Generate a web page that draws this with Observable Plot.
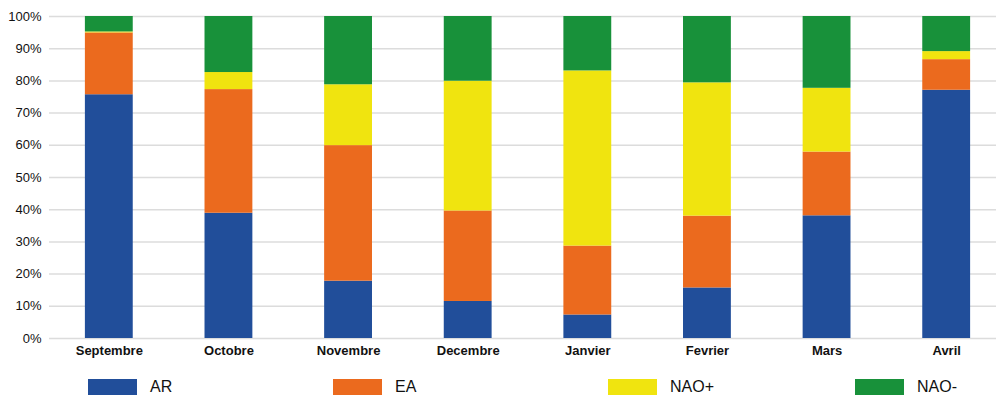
<!DOCTYPE html>
<html><head><meta charset="utf-8">
<script src="https://cdn.jsdelivr.net/npm/d3@7"></script>
<script src="https://cdn.jsdelivr.net/npm/@observablehq/plot@0.6"></script>
<style>
body{margin:0;background:#fff;font-family:"Liberation Sans",Arial,Helvetica,sans-serif;}
#wrap{position:relative;width:996px;height:396px;}
#legend{position:absolute;left:0;top:362px;width:996px;height:34px;}
.item{position:absolute;top:17px;height:16px;display:flex;align-items:center;font-size:16px;color:#111;}
.sw{width:49px;height:16px;margin-right:13px;}
</style>
</head><body>
<div id="wrap"><div id="chart"></div><div id="legend"></div></div>
<script>
const months = ["Septembre","Octobre","Novembre","Decembre","Janvier","Fevrier","Mars","Avril"];
const series = ["AR","EA","NAO+","NAO-"];
const colors = ["#214E9A","#EB6A1E","#F0E40F","#18913A"];
const AR    = [75.7, 38.9, 17.8, 11.5,  7.3, 15.7, 38.1, 77.1];
const EA    = [19.2, 38.4, 42.1, 28.1, 21.4, 22.3, 19.8,  9.5];
const NAOp  = [ 0.3,  5.3, 18.9, 40.3, 54.4, 41.4, 19.8,  2.5];
const NAOm  = [ 4.8, 17.4, 21.2, 20.1, 16.9, 20.6, 22.3, 10.9];
const yTicks = [0,10,20,30,40,50,60,70,80,90,100];
const legendX = [88, 333, 608, 855];

const values = [AR, EA, NAOp, NAOm];
const data = [];
series.forEach((s, si) => months.forEach((m, mi) => data.push({month: m, series: s, value: values[si][mi] / 100})));

const chart = Plot.plot({
  width: 996, height: 362,
  marginLeft: 49, marginRight: 0, marginTop: 16, marginBottom: 24,
  style: {fontFamily: '"Liberation Sans",Arial,Helvetica,sans-serif', fontSize: "13px", color: "#111"},
  x: {domain: months, range: [49, 1006], paddingInner: 0.6, paddingOuter: 0.3, round: false, label: null},
  y: {domain: [0, 1], label: null},
  color: {domain: series, range: colors},
  marks: [
    Plot.ruleY(yTicks.map(d => d / 100), {stroke: "#dcdcdc", strokeWidth: 1.5}),
    Plot.barY(data, Plot.stackY({order: series, x: "month", y: "value", fill: "series"})),
    Plot.axisY(yTicks.map(d => d / 100), {tickSize: 0, tickPadding: 8, tickFormat: d => Math.round(d * 100) + "%", fontSize: 13}),
    Plot.axisX({tickSize: 0, tickPadding: 7, fontWeight: "bold", fontSize: 13})
  ]
});
document.getElementById("chart").appendChild(chart);

const leg = document.getElementById("legend");
series.forEach((s, i) => {
  const it = document.createElement("div");
  it.className = "item";
  it.style.left = legendX[i] + "px";
  it.innerHTML = `<span class="sw" style="background:${colors[i]}"></span><span>${s}</span>`;
  leg.appendChild(it);
});
</script>
</body></html>
